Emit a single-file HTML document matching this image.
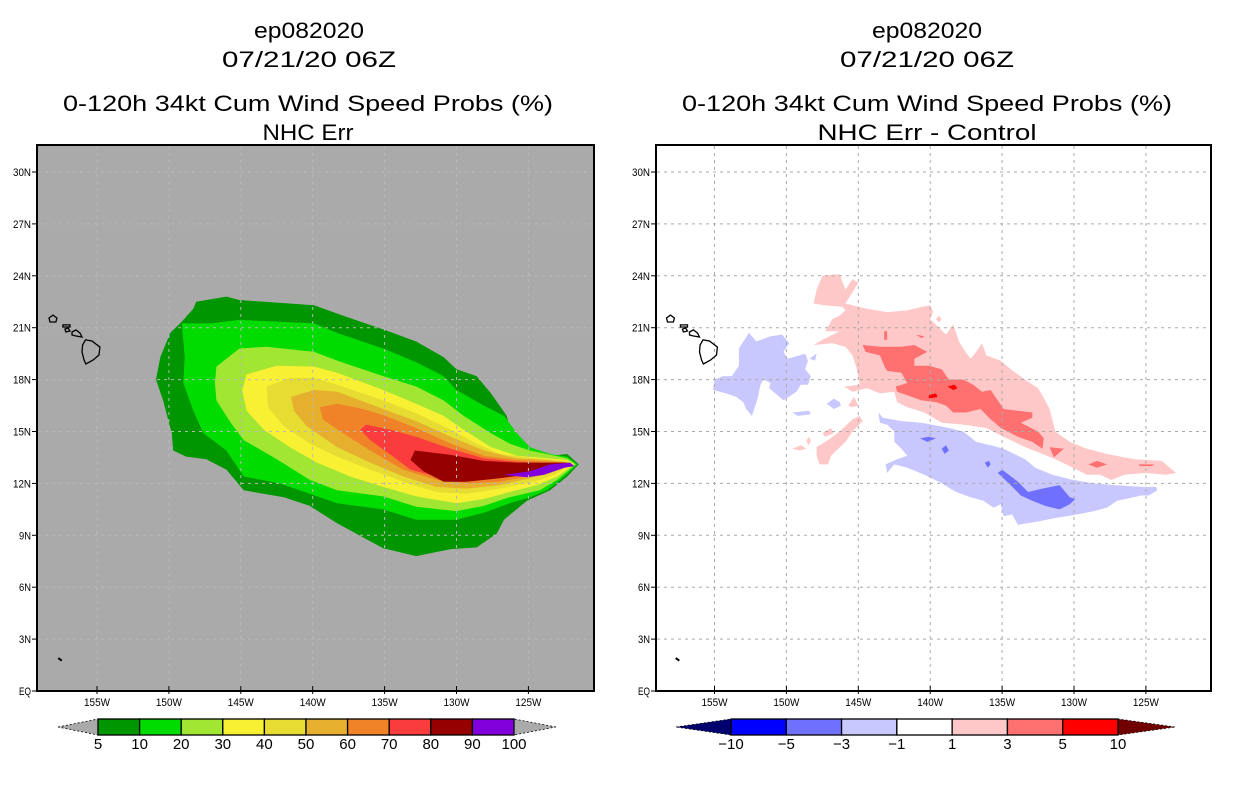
<!DOCTYPE html>
<html><head><meta charset="utf-8">
<style>
html,body{margin:0;padding:0;background:#fff;}
svg{display:block;font-family:"Liberation Sans",sans-serif;}
.t{font-size:22px;fill:#000;text-anchor:middle;}
.tk{font-size:11px;fill:#000;}
</style></head>
<body>
<svg id="fig" width="1236" height="800" viewBox="0 0 1236 800" xmlns="http://www.w3.org/2000/svg">
<rect x="0" y="0" width="1236" height="800" fill="#fff"/>
<g>
<text class="t" x="309" y="38" textLength="110" lengthAdjust="spacingAndGlyphs">ep082020</text>
<text class="t" x="309" y="67" textLength="174" lengthAdjust="spacingAndGlyphs">07/21/20 06Z</text>
<text class="t" x="308" y="111" textLength="490" lengthAdjust="spacingAndGlyphs">0-120h 34kt Cum Wind Speed Probs (%)</text>
<text class="t" x="308" y="140" textLength="91" lengthAdjust="spacingAndGlyphs">NHC Err</text>
</g>
<g>
<text class="t" x="927" y="38" textLength="110" lengthAdjust="spacingAndGlyphs">ep082020</text>
<text class="t" x="927" y="67" textLength="174" lengthAdjust="spacingAndGlyphs">07/21/20 06Z</text>
<text class="t" x="927" y="111" textLength="490" lengthAdjust="spacingAndGlyphs">0-120h 34kt Cum Wind Speed Probs (%)</text>
<text class="t" x="927" y="140" textLength="219" lengthAdjust="spacingAndGlyphs">NHC Err - Control</text>
</g>
<g id="leftMap"></g>
<g id="rightMap"></g>
<g id="leftBar"></g>
<g id="rightBar"></g>
</svg>
<script>
// ---- data ----
const lonTicks = [155,150,145,140,135,130,125];
const latTicks = [0,3,6,9,12,15,18,21,24,27,30];
const probLevels = [5,10,20,30,40,50,60,70,80,90,100];
const probColors = ["#009600","#00dc00","#a0e632","#f8f032","#e6dc32","#e6af2d","#f08228","#fa3c3c","#960000","#8200dc"];
const diffLevels = [-10,-5,-3,-1,1,3,5,10];
const diffColors = ["#0000ff","#7070ff","#c8c8ff","#ffffff","#ffc8c8","#ff7070","#ff0000"];
// probability contours (lonW, latN)
const prob5 = [[148.1,22.5],[146.0,22.8],[145.1,22.6],[139.9,22.3],[137.9,21.7],[135.1,20.9],[132.8,20.2],[130.9,19.3],[130.0,18.6],[128.6,18.2],[127.6,17.2],[126.5,15.9],[126.3,15.1],[125.1,14.1],[123.5,13.6],[122.3,13.7],[121.5,13.1],[122.3,12.4],[123.5,11.6],[125.1,11.0],[126.7,9.9],[127.2,9.1],[128.6,8.3],[130.4,8.2],[132.8,7.8],[135.1,8.25],[138.3,9.7],[140.2,10.7],[142.0,11.2],[144.8,11.6],[146.0,12.8],[147.4,13.4],[148.8,13.55],[149.7,13.9],[149.8,14.9],[150.0,15.5],[150.4,16.8],[150.9,18.0],[150.6,19.3],[149.9,20.7],[149.1,21.35],[148.3,22.1]];
const prob10 = [[149.1,21.25],[147.1,21.25],[145.1,21.45],[139.9,21.25],[138.3,20.7],[135.1,19.8],[132.8,19.0],[130.9,18.2],[130.0,17.4],[128.1,16.5],[126.7,15.9],[125.8,14.9],[124.9,14.1],[123.5,13.7],[122.3,13.55],[121.6,13.1],[122.5,12.4],[123.7,11.6],[124.9,11.2],[126.3,10.85],[128.1,10.3],[130.0,9.9],[132.8,9.9],[135.1,10.5],[138.3,10.85],[140.2,11.4],[142.3,12.0],[144.8,12.4],[146.0,13.9],[147.6,14.9],[148.3,16.2],[149.0,17.8],[148.9,19.3]];
const prob20 = [[146.7,18.75],[145.1,19.8],[143.2,19.9],[139.9,19.6],[138.3,19.1],[135.1,18.2],[132.8,17.6],[130.9,16.8],[129.5,15.9],[127.6,14.9],[126.3,14.3],[124.9,13.9],[122.3,13.45],[121.7,13.1],[123.0,12.2],[124.2,11.6],[126.3,11.2],[128.1,10.7],[130.0,10.4],[132.8,10.65],[135.1,11.25],[138.3,11.6],[140.2,12.2],[142.5,13.4],[144.8,14.5],[145.7,15.5],[146.7,16.8],[146.8,17.8]];
const prob30 = [[144.6,18.3],[142.5,18.8],[139.9,18.75],[138.3,18.4],[135.1,17.4],[132.8,16.6],[130.9,15.9],[129.5,15.1],[127.6,14.1],[125.8,13.6],[122.3,13.35],[121.8,13.1],[123.0,12.4],[124.4,11.9],[126.3,11.5],[128.1,11.1],[130.0,10.85],[132.8,11.25],[135.1,11.8],[137.4,12.4],[139.7,13.2],[141.6,14.1],[143.4,15.1],[144.6,16.2],[144.9,17.4]];
const prob40 = [[143.2,17.6],[141.6,18.1],[139.9,18.1],[138.3,17.7],[135.1,16.8],[132.8,16.05],[130.4,15.1],[128.6,14.3],[127.0,13.7],[124.6,13.45],[122.1,13.25],[122.0,13.1],[123.2,12.5],[124.6,12.1],[127.0,11.7],[129.3,11.4],[131.4,11.5],[133.7,12.1],[136.0,12.8],[138.3,13.55],[140.2,14.3],[142.0,15.3],[143.1,16.4]];
const prob50 = [[141.5,17.0],[139.9,17.4],[138.3,17.3],[135.1,16.3],[132.8,15.6],[130.4,14.7],[128.1,13.9],[125.8,13.45],[123.5,13.35],[122.2,13.2],[123.5,12.6],[124.9,12.3],[127.0,11.9],[129.3,11.7],[131.4,11.8],[133.7,12.4],[136.0,13.2],[138.3,14.1],[140.4,15.3],[141.3,16.2]];
const prob60 = [[139.5,16.4],[138.3,16.6],[136.5,16.3],[135.1,15.95],[132.8,15.2],[130.4,14.3],[128.1,13.6],[125.8,13.35],[122.3,13.2],[123.5,12.7],[125.1,12.4],[127.0,12.1],[129.3,12.0],[131.4,12.2],[133.7,12.8],[136.0,13.9],[137.9,14.9],[139.3,15.7]];
const prob70 = [[136.7,15.1],[136.3,15.4],[134.6,15.1],[132.8,14.7],[130.4,14.0],[128.1,13.45],[125.8,13.25],[122.3,13.1],[123.5,12.7],[125.1,12.5],[127.0,12.3],[129.3,12.2],[131.4,12.4],[133.2,12.8],[134.4,13.55],[136.0,14.5]];
const prob80 = [[133.2,13.35],[132.9,13.9],[130.4,13.65],[128.1,13.3],[125.8,13.2],[122.3,13.2],[123.5,12.8],[125.1,12.5],[127.0,12.3],[129.3,12.1],[130.9,12.1],[132.3,12.7]];
const prob90 = [[126.7,12.5],[124.9,12.7],[123.5,13.1],[122.1,13.2],[121.8,13.0],[122.5,12.9],[123.9,12.5],[125.1,12.35]];
// difference contours (lonW, latN)
const diffPos1 = [[147.5,24.0],[146.3,24.1],[145.9,23.2],[145.4,23.8],[145.0,23.6],[145.6,22.8],[145.9,22.4],[144.4,22.1],[143.0,21.9],[141.6,22.0],[140.6,22.2],[140.0,22.3],[139.8,21.9],[140.0,21.5],[138.9,20.6],[138.4,21.2],[138.0,20.2],[137.7,19.8],[137.2,19.2],[136.8,19.6],[136.4,20.1],[136.1,19.4],[135.1,19.1],[134.4,18.6],[133.4,18.0],[132.5,17.5],[132.2,17.1],[131.7,16.3],[131.3,15.0],[130.3,14.4],[129.1,14.0],[127.7,13.7],[125.8,13.4],[123.9,13.3],[122.9,12.6],[123.6,12.5],[125.0,12.6],[126.5,12.5],[127.4,12.2],[128.2,12.5],[129.1,12.5],[130.3,13.0],[131.3,13.4],[132.2,13.7],[133.4,14.1],[134.9,14.7],[136.1,15.2],[137.7,15.4],[139.2,15.5],[140.4,16.1],[141.6,16.4],[142.3,16.7],[142.5,17.3],[143.5,17.2],[144.4,17.5],[145.4,17.3],[146.0,17.6],[144.9,17.7],[145.1,18.6],[145.4,19.4],[145.9,19.9],[146.8,20.1],[148.1,20.0],[147.5,20.3],[146.3,20.8],[147.3,20.8],[146.8,21.5],[146.3,21.7],[145.9,22.0],[146.1,22.2],[147.4,22.3],[148.1,22.4],[147.9,23.2]];
const diffPos1b = [[147.9,14.1],[147.1,14.5],[146.3,15.0],[145.4,15.7],[144.9,15.9],[144.7,15.6],[145.4,15.0],[145.9,14.4],[146.9,13.6],[147.1,13.1],[147.7,13.1],[147.9,13.6]];
const diffPos1c = [[147.5,14.9],[146.9,15.2],[146.7,14.9],[147.3,14.7]];
const diffPos1d = [[145.7,16.5],[145.3,17.0],[145.0,16.5],[145.4,16.4]];
const diffPos1e = [[149.6,14.0],[149.0,14.2],[148.6,14.0],[149.1,13.9]];
const diffPos1f = [[148.6,14.5],[148.4,14.7],[148.3,14.4],[148.5,14.2]];
const diffPos1g = [[139.6,21.5],[139.4,21.7],[139.2,21.5],[139.4,21.3]];
const diffPos3 = [[144.7,20.0],[143.5,19.9],[142.0,19.9],[141.1,20.0],[140.2,19.6],[141.1,19.2],[141.1,18.8],[140.1,18.8],[139.2,18.6],[138.7,18.0],[137.7,18.0],[137.0,17.7],[136.4,17.3],[135.8,17.4],[135.3,16.8],[134.9,16.3],[132.9,16.1],[132.9,15.8],[133.7,15.5],[132.5,15.0],[132.1,14.6],[132.2,14.0],[132.9,14.4],[133.9,14.7],[135.1,15.2],[135.5,15.5],[135.8,15.7],[136.5,16.3],[137.5,16.1],[138.4,16.1],[138.9,16.5],[139.6,16.7],[140.6,16.8],[141.6,17.1],[142.3,17.3],[142.4,17.6],[141.6,17.8],[142.0,18.4],[143.0,18.5],[143.2,18.8],[143.5,19.4],[144.5,19.6]];
const diffPos3b = [[131.7,14.1],[130.7,14.0],[131.4,13.5]];
const diffPos3c = [[129.0,13.1],[128.4,13.3],[127.7,13.1],[128.4,12.9]];
const diffPos3d = [[125.5,13.1],[124.4,13.1],[124.6,13.0],[125.4,13.0]];
const diffPos3e = [[143.2,20.8],[143.0,20.8],[143.0,20.3],[143.2,20.3]];
const diffPos3f = [[141.0,20.6],[140.4,20.5],[140.6,20.4]];
const diffPos5a = [[140.1,17.1],[139.6,17.2],[139.5,17.0],[140.1,16.9]];
const diffPos5b = [[138.8,17.6],[138.3,17.7],[138.1,17.5],[138.4,17.4]];
const diffNeg1 = [[153.3,19.8],[152.6,20.7],[152.1,20.2],[151.1,20.5],[150.3,20.6],[149.8,20.1],[150.2,19.6],[149.9,19.2],[149.1,19.4],[148.7,19.5],[148.5,19.1],[148.7,18.6],[148.3,18.2],[148.5,17.7],[149.0,17.7],[149.3,17.3],[150.2,16.8],[150.9,17.3],[151.2,17.5],[151.1,17.8],[151.6,18.0],[151.8,17.7],[152.0,16.9],[152.4,15.9],[152.8,16.3],[153.0,16.7],[153.5,17.0],[154.2,17.2],[155.1,17.4],[155.0,18.0],[154.4,18.2],[153.8,18.2],[153.3,18.8]];
const diffNeg1b = [[147.2,16.6],[146.7,16.9],[146.3,16.7],[146.2,16.5],[146.7,16.3]];
const diffNeg1c = [[149.6,16.1],[148.4,16.2],[148.3,16.0],[149.2,15.9]];
const diffNeg1d = [[148.4,19.2],[147.9,19.5],[148.0,19.1]];
const diffNeg1e = [[143.6,16.1],[143.3,15.8],[142.0,15.6],[140.6,15.5],[139.9,15.4],[138.7,15.2],[137.7,15.0],[136.8,14.4],[135.8,14.2],[134.9,14.0],[133.4,13.4],[132.7,12.9],[131.5,12.5],[130.1,12.2],[128.6,12.0],[127.2,11.9],[125.3,11.8],[124.3,11.8],[124.2,11.6],[124.8,11.3],[125.3,11.3],[127.0,11.0],[127.7,10.6],[128.6,10.4],[129.8,10.2],[131.3,10.0],[132.5,9.8],[133.9,9.6],[134.3,10.2],[134.9,10.1],[135.1,10.8],[135.6,10.6],[136.3,11.0],[137.2,11.2],[138.2,11.5],[139.4,12.1],[140.4,12.5],[141.6,12.9],[142.5,13.1],[143.0,12.6],[143.1,13.1],[142.3,13.4],[141.6,13.6],[142.0,14.0],[142.5,14.4],[142.5,15.0],[143.0,15.4],[143.5,15.5]];
const diffNeg3 = [[135.3,12.6],[135.0,12.8],[133.9,12.1],[133.2,11.5],[132.2,11.7],[131.0,11.9],[130.3,11.2],[129.9,11.1],[130.3,10.8],[131.0,10.5],[132.0,10.7],[132.9,11.0],[133.7,11.3],[134.4,11.9]];
const diffNeg3b = [[140.7,14.6],[140.1,14.7],[139.6,14.6],[140.2,14.4]];
const diffNeg3c = [[139.2,14.0],[138.9,14.2],[138.7,13.9],[139.0,13.7]];
const diffNeg3d = [[136.2,13.2],[135.9,13.3],[135.8,13.1],[136.0,12.9]];
// coastlines
const bigIsland = [[156.0,20.0],[155.8,20.3],[155.35,20.23],[154.8,19.88],[154.86,19.42],[155.28,19.13],[155.77,18.9],[155.9,19.13],[156.04,19.6]];
const maui = [[156.74,20.75],[156.46,20.87],[156.18,20.69],[156.04,20.46],[156.46,20.52],[156.74,20.58]];
const molokai = [[157.37,21.16],[156.88,21.16],[156.88,21.04],[157.37,21.04]];
const oahu = [[157.23,20.92],[157.02,20.98],[156.88,20.81],[157.16,20.75]];
const kauai = [[158.34,21.56],[158.06,21.73],[157.79,21.56],[157.86,21.33],[158.27,21.33]];
const smallIsland = [[157.7,1.9],[157.45,1.75]];

const NS="http://www.w3.org/2000/svg";
function mk(tag, attrs, parent){const e=document.createElementNS(NS,tag);for(const k in attrs)e.setAttribute(k,attrs[k]);parent.appendChild(e);return e;}
function makeProj(x0,x155,w){
  return {x:lon=>x155+(155-lon)*14.38, y:lat=>691-lat*17.3, x0:x0, w:w};
}
const LP = makeProj(37,97,557);
const RP = makeProj(656,714.5,555);
function pts(P,arr){return arr.map(p=>P.x(p[0]).toFixed(1)+","+P.y(p[1]).toFixed(1)).join(" ");}

function drawMap(g,P,bg,gridCol,layers,clipId){
  const defs=mk('defs',{},g);
  const cp=mk('clipPath',{id:clipId},defs);
  mk('rect',{x:P.x0,y:145,width:P.w,height:546},cp);
  const bgR=mk('rect',{x:P.x0,y:145,width:P.w,height:546,fill:bg},g);
  
  
  const body=mk('g',{'clip-path':'url(#'+clipId+')'},g);
  layers.forEach(L=>{
    const pg=mk('polygon',{points:pts(P,L.d),fill:L.c},body);
    
    
  });
  lonTicks.forEach(lon=>{
    const ln=mk('line',{x1:P.x(lon),x2:P.x(lon),y1:146,y2:690,stroke:gridCol,'stroke-width':1,'stroke-dasharray':'3,4'},body);
    
    
  });
  latTicks.forEach(lat=>{
    if(lat===0)return;
    const ln=mk('line',{x1:P.x0+1,x2:P.x0+P.w-1,y1:P.y(lat),y2:P.y(lat),stroke:gridCol,'stroke-width':1,'stroke-dasharray':'3,4'},body);
    
    
  });
  [bigIsland,maui,molokai,oahu,kauai].forEach(c=>{
    const pg=mk('polygon',{points:pts(P,c),fill:'none',stroke:'#000','stroke-width':1.3},body);
    
    
  });
  const si=mk('polyline',{points:pts(P,smallIsland),fill:'none',stroke:'#000','stroke-width':2},body);
  
  
  const fr=mk('rect',{x:P.x0,y:145,width:P.w,height:546,fill:'none',stroke:'#000','stroke-width':2},g);
  
  
  lonTicks.forEach(lon=>{
    const x=P.x(lon);
    mk('line',{x1:x,x2:x,y1:686,y2:694,stroke:'#000','stroke-width':1},g);
    const t=mk('text',{x:x,y:706,class:'tk','text-anchor':'middle',textLength:26,lengthAdjust:'spacingAndGlyphs'},g);
    t.textContent=lon+'W';
    
    
  });
  latTicks.forEach(lat=>{
    const y=P.y(lat);
    mk('line',{x1:P.x0-5,x2:P.x0,y1:y,y2:y,stroke:'#000','stroke-width':1},g);
    const lab=lat===0?'EQ':lat+'N';
    const t=mk('text',{x:P.x0-6,y:y+4,class:'tk','text-anchor':'end',textLength:(lab.length===2?12:18),lengthAdjust:'spacingAndGlyphs'},g);
    t.textContent=lab;
    
    
  });
}

drawMap(document.getElementById('leftMap'),LP,'#aaaaaa','#b8b8b8',[
  {d:prob5,c:probColors[0],n:'contour-5'},{d:prob10,c:probColors[1],n:'contour-10'},
  {d:prob20,c:probColors[2],n:'contour-20'},{d:prob30,c:probColors[3],n:'contour-30'},
  {d:prob40,c:probColors[4],n:'contour-40'},{d:prob50,c:probColors[5],n:'contour-50'},
  {d:prob60,c:probColors[6],n:'contour-60'},{d:prob70,c:probColors[7],n:'contour-70'},
  {d:prob80,c:probColors[8],n:'contour-80'},{d:prob90,c:probColors[9],n:'contour-90'}
],'clipL');

const pos1=[diffPos1,diffPos1b,diffPos1c,diffPos1d,diffPos1e,diffPos1f,diffPos1g];
const pos3=[diffPos3,diffPos3b,diffPos3c,diffPos3d,diffPos3e,diffPos3f];
const neg1=[diffNeg1,diffNeg1b,diffNeg1c,diffNeg1d,diffNeg1e];
const neg3=[diffNeg3,diffNeg3b,diffNeg3c,diffNeg3d];
const rl=[];
pos1.forEach(d=>rl.push({d:d,c:diffColors[4],n:'contour-plus1'}));
pos3.forEach(d=>rl.push({d:d,c:diffColors[5],n:'contour-plus3'}));
[diffPos5a,diffPos5b].forEach(d=>rl.push({d:d,c:diffColors[6],n:'contour-plus5'}));
neg1.forEach(d=>rl.push({d:d,c:diffColors[2],n:'contour-minus1'}));
neg3.forEach(d=>rl.push({d:d,c:diffColors[1],n:'contour-minus3'}));
drawMap(document.getElementById('rightMap'),RP,'#ffffff','#aaaaaa',rl,'clipR');

function drawBar(g,x0,x1,tipL,tipR,levels,colors,lc,rc){
  const n=colors.length, w=(x1-x0)/n, y0=719, y1=735;
  const tl=mk('polygon',{points:`${tipL},${(y0+y1)/2} ${x0},${y0} ${x0},${y1}`,fill:lc,stroke:'#000','stroke-width':0.8,'stroke-dasharray':'2,2'},g);
  
  
  const tr=mk('polygon',{points:`${tipR},${(y0+y1)/2} ${x1},${y0} ${x1},${y1}`,fill:rc,stroke:'#000','stroke-width':0.8,'stroke-dasharray':'2,2'},g);
  
  
  colors.forEach((c,i)=>{
    const r=mk('rect',{x:x0+i*w,y:y0,width:w,height:y1-y0,fill:c,stroke:'#000','stroke-width':1.3},g);
    
    
  });
  levels.forEach((v,i)=>{
    const t=mk('text',{x:x0+i*w,y:749,'text-anchor':'middle','font-size':'15px',fill:'#000'},g);
    t.textContent=v<0?'\u2212'+(-v):String(v);
    
    
  });
}
drawBar(document.getElementById('leftBar'),98,514,58,556,probLevels,probColors,'#aaaaaa','#aaaaaa');
drawBar(document.getElementById('rightBar'),731,1118,676,1175,diffLevels,diffColors,'#00006e','#700000');
</script>
</body></html>
